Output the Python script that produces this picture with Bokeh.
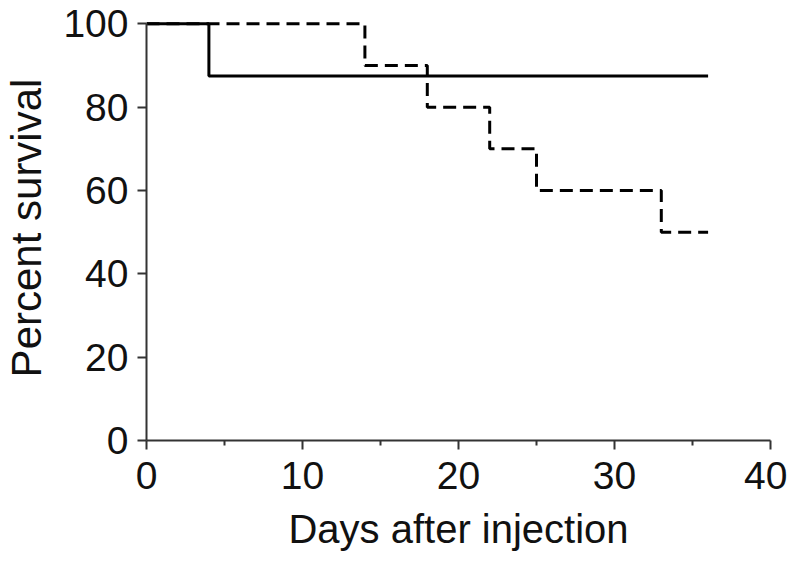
from bokeh.plotting import figure
from bokeh.models import Range1d, FixedTicker
from bokeh.embed import file_html
from bokeh.resources import INLINE

# Survival data (Kaplan-Meier style steps)
days_solid = [0, 4, 36]
surv_solid = [100, 87.5, 87.5]
days_dashed = [0, 14, 18, 22, 25, 33, 36]
surv_dashed = [100, 90, 80, 70, 60, 50, 50]

x_ticks = [0, 10, 20, 30, 40]
x_minor = [5, 15, 25, 35]
y_ticks = [0, 20, 40, 60, 80, 100]

FONT = "Liberation Sans"

p = figure(
    frame_width=624, frame_height=425,
    x_range=Range1d(0, 40), y_range=Range1d(0, 102),
    output_backend="svg", toolbar_location=None,
    min_border_left=143, min_border_right=17,
    min_border_top=15, min_border_bottom=100,
    background_fill_color="white", border_fill_color="white",
)
p.outline_line_color = None
p.xgrid.grid_line_color = None
p.ygrid.grid_line_color = None

p.step(days_dashed, surv_dashed, mode="after", line_color="black",
       line_width=3, line_dash="13 7")
p.step(days_solid, surv_solid, mode="after", line_color="black",
       line_width=3)

p.xaxis.ticker = FixedTicker(ticks=x_ticks, minor_ticks=x_minor)
p.yaxis.ticker = FixedTicker(ticks=y_ticks, minor_ticks=[])
p.yaxis.bounds = (0, 100)

for ax in (p.xaxis[0], p.yaxis[0]):
    ax.axis_line_color = "#333333"
    ax.axis_line_width = 2
    ax.major_tick_line_color = "#333333"
    ax.major_tick_line_width = 2
    ax.major_tick_in = 0
    ax.major_tick_out = 9
    ax.minor_tick_line_color = "#333333"
    ax.minor_tick_line_width = 2
    ax.minor_tick_in = 0
    ax.minor_tick_out = 5
    ax.major_label_text_font = FONT
    ax.major_label_text_font_size = "39px"
    ax.major_label_text_color = "#111111"
    ax.axis_label_text_font = FONT
    ax.axis_label_text_font_style = "normal"
    ax.axis_label_text_color = "#111111"

p.xaxis.axis_label = "Days after injection"
p.yaxis.axis_label = "Percent survival"
p.xaxis.axis_label_text_font_size = "40px"
p.yaxis.axis_label_text_font_size = "42px"
p.xaxis.major_label_standoff = 12
p.xaxis.axis_label_standoff = 15
p.yaxis.major_label_standoff = 9
p.yaxis.axis_label_standoff = 10

open("out.html", "w").write(file_html(p, INLINE))
